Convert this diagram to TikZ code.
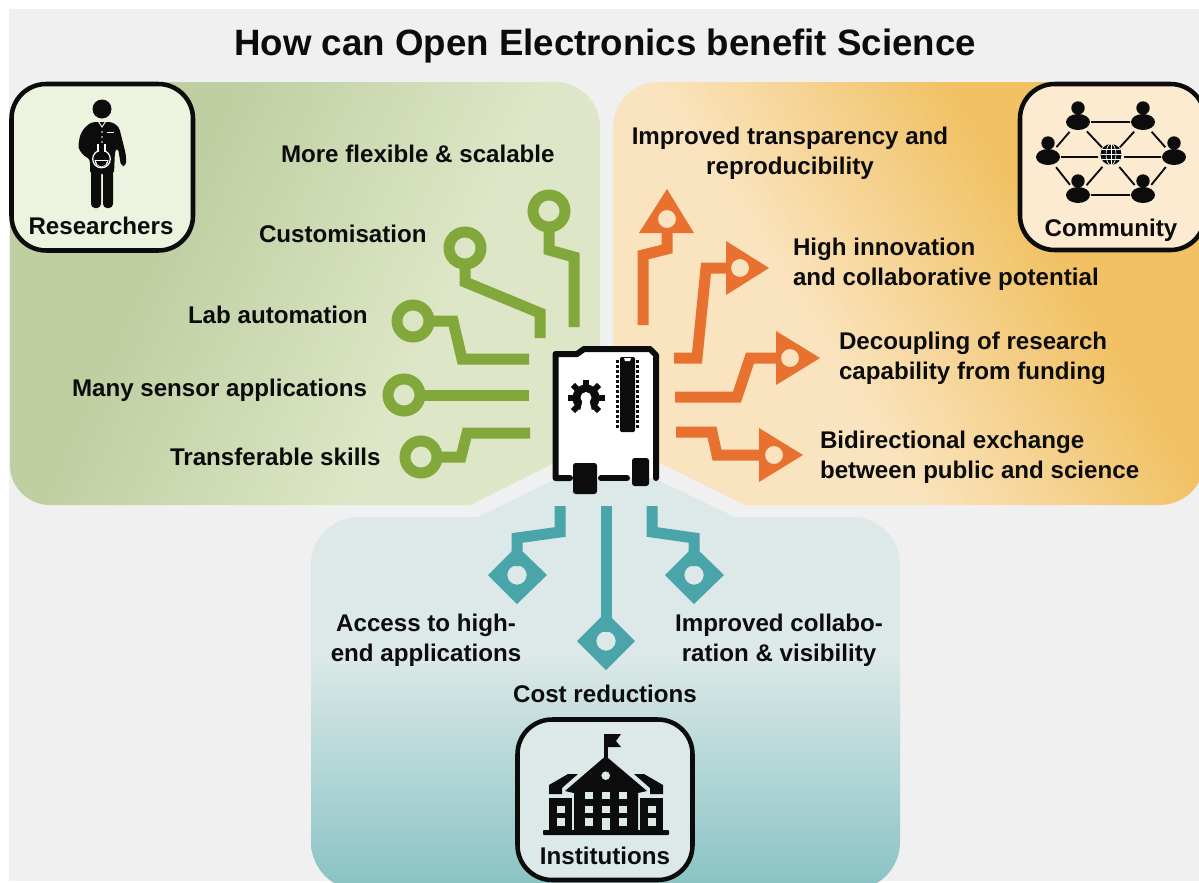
\documentclass[tikz,border=0pt]{standalone}
\usepackage{fontspec}
\setmainfont{Liberation Sans}
\usetikzlibrary{calc}
\definecolor{bgc}{HTML}{F0F0F0}
\definecolor{gdark}{HTML}{BFCFA2}
\definecolor{glight}{HTML}{DDE6C6}
\definecolor{olight}{HTML}{FAE4BF}
\definecolor{odark}{HTML}{F1C163}
\definecolor{tlight}{HTML}{DCE9E8}
\definecolor{tdark}{HTML}{88C2C3}
\definecolor{gtrace}{HTML}{82A83C}
\definecolor{otrace}{HTML}{E8712F}
\definecolor{ttrace}{HTML}{49A5A9}
\definecolor{gbox}{HTML}{ECF3DF}
\definecolor{obox}{HTML}{FCEBD0}
\definecolor{tbox}{HTML}{DCE9E8}
\definecolor{ink}{HTML}{0C0C0C}
\pgfdeclarehorizontalshading{gshade}{100bp}{color(0bp)=(gdark);color(36bp)=(gdark);color(62bp)=(glight);color(100bp)=(glight)}
\pgfdeclarehorizontalshading{oshade}{100bp}{color(0bp)=(olight);color(40bp)=(olight);color(64bp)=(odark);color(100bp)=(odark)}
\pgfdeclareverticalshading{tshade}{100bp}{color(0bp)=(tdark);color(25bp)=(tdark);color(52bp)=(tlight);color(100bp)=(tlight)}
\tikzset{
  lab/.style={font=\fontsize{18.1}{22.5}\selectfont\bfseries,text=ink,inner sep=0pt,outer sep=0pt},
  ttl/.style={font=\fontsize{27.5}{32}\selectfont\bfseries,text=ink,inner sep=0pt},
  trace/.style={line width=8.25pt,line join=miter,miter limit=10},
  ring/.style={circle,draw=gtrace,line width=8.25pt,minimum size=24pt,inner sep=0pt,outer sep=0pt},
  hole/.style={circle,minimum size=13.5pt,inner sep=0pt,outer sep=0pt},
  iconbox/.style={draw=ink,line width=3.4pt,rounded corners=26pt},
  person/.style={circle,minimum size=19.5pt,inner sep=0pt,outer sep=0pt},
  link/.style={draw=ink,line width=1.4pt},
}
\begin{document}
\begin{tikzpicture}[x=0.75pt,y=-0.75pt]
\useasboundingbox (0,0) rectangle (1199,882);
\clip (0,0) rectangle (1199,882);
\fill[bgc] (9,9) rectangle (1199,881);
% panels
\shade[shading=gshade,shading angle=-25]
  [rounded corners=34pt] (10,82) -- (600,82) -- (600,440)
  [sharp corners] -- (470,505) [rounded corners=30pt] -- (10,505) -- cycle;
\shade[shading=oshade,shading angle=32]
  [rounded corners=34pt] (613,440) -- (613,82) -- (1205,82) -- (1205,505)
  [sharp corners] -- (745,505) -- cycle;
\shade[shading=tshade]
  [sharp corners] (605,455) -- (478,517) [rounded corners=36pt] -- (311,517) -- (311,890) -- (900,890) -- (900,517)
  [sharp corners] -- (735,517) -- cycle;
% title
\node[ttl,anchor=base] (title) at (605,55) {How can Open Electronics benefit Science};
% green pads and traces
\node[ring] (g1) at (549,211) {};
\node[ring] (g2) at (465,248) {};
\node[ring] (g3) at (413,321) {};
\node[ring] (g4) at (404,395) {};
\node[ring] (g5) at (421,457) {};
\coordinate (gs1) at (574,327);
\coordinate (gs2) at (540,338);
\coordinate (gs3) at (529,359);
\coordinate (gs4) at (529,395);
\coordinate (gs5) at (530,433);
\draw[trace,gtrace] (g1.south) -- (549,250) -- (574,257) -- (gs1);
\draw[trace,gtrace] (g2.south) -- (465,282) -- (540,313) -- (gs2);
\draw[trace,gtrace] (g3.east) -- (453,321) -- (462,359) -- (gs3);
\draw[trace,gtrace] (g4.east) -- (gs4);
\draw[trace,gtrace] (g5.east) -- (461,457) -- (467,433) -- (gs5);
% orange pads and traces
\fill[otrace,even odd rule] (667,189) -- (694,233) -- (639,233) -- cycle (667,219) circle [radius=9];
\fill[otrace,even odd rule] (726,241) -- (769,268) -- (726,295) -- cycle (740,268) circle [radius=9];
\fill[otrace,even odd rule] (776,331) -- (820,358) -- (776,385) -- cycle (790,358) circle [radius=9];
\fill[otrace,even odd rule] (759,428) -- (803,455) -- (759,482) -- cycle (774,455) circle [radius=9];
\node[hole] (o1) at (667,219) {};
\node[hole] (o2) at (740,268) {};
\node[hole] (o3) at (790,358) {};
\node[hole] (o4) at (774,455) {};
\coordinate (os1) at (643,325);
\coordinate (os2) at (674,358);
\coordinate (os3) at (675,397);
\coordinate (os4) at (676,432);
\draw[trace,otrace] (os1) -- (643,255) -- (667,249) -- (o1.south);
\draw[trace,otrace] (os2) -- (697,358) -- (706,268) -- (o2.west);
\draw[trace,otrace] (os3) -- (737,397) -- (750,358) -- (o3.west);
\draw[trace,otrace] (os4) -- (712,432) -- (717,455) -- (o4.west);
% teal pads and traces
\fill[ttrace,even odd rule] (517,546) -- (547,575) -- (517,604) -- (488,575) -- cycle (517,575) circle [radius=9.7];
\fill[ttrace,even odd rule] (606,612) -- (635,641) -- (606,670) -- (577,641) -- cycle (606,641) circle [radius=9.7];
\fill[ttrace,even odd rule] (694,546) -- (724,575) -- (694,604) -- (665,575) -- cycle (694,575) circle [radius=9.7];
\node[hole] (t1) at (517,575) {};
\node[hole] (t2) at (606,641) {};
\node[hole] (t3) at (694,575) {};
\coordinate (ts1) at (560,506);
\coordinate (ts2) at (606,506);
\coordinate (ts3) at (652,506);
\draw[trace,ttrace] (ts1) -- (560,532) -- (517,538) -- (t1.north);
\draw[trace,ttrace] (ts2) -- (t2.north);
\draw[trace,ttrace] (ts3) -- (652,532) -- (694,538) -- (t3.north);
% board
\fill[white] (555,354) -- (577,354) -- (584,349) -- (650,349) -- (656,354) -- (656,478) -- (555,478) -- cycle;
\draw[ink,line width=4.5pt,line cap=round,line join=round]
  (570,478) -- (555.5,478) -- (555.5,354) -- (577,354) -- (584,349) -- (650,349) -- (656,355) -- (656,478);
\draw[ink,line width=4.5pt,line cap=round] (601,478) -- (627,478);
\fill[ink,rounded corners=2pt] (573,463) rectangle (597,494);
\fill[ink,rounded corners=2pt] (632,458) rectangle (649,486);
\fill[ink,rounded corners=1pt] (620,357) rectangle (635,432);
\fill[white] (624,358) -- (631,358) -- (630,361) -- (625,361) -- cycle;
\foreach \k in {0,...,13} {
  \fill[ink] (615.6,360+\k*5) rectangle (618.6,363+\k*5);
  \fill[ink] (636.4,360+\k*5) rectangle (639.4,363+\k*5);
}
% gear
\fill[ink] (586,398) circle [radius=13.5];
\foreach \a in {0,45,135,180,225,270,315}
  \draw[ink,line width=4.4pt] (586,398) -- ++(\a:18.5);
\fill[white] (586,397.5) circle [radius=5.5];
\fill[white] (582.5,401) -- (589.5,401) -- (592.5,413) -- (579.5,413) -- cycle;
% researchers box
\path[iconbox,fill=gbox] (11.5,84) rectangle (193,250.5);
\fill[ink] (102,109) circle [radius=9.5];
\fill[ink,rounded corners=2.5pt] (92,122) -- (112,122) -- (119,127) -- (126,155) -- (126,166) -- (121,166) -- (118,148) -- (115,150) -- (114,174) -- (90,174) -- (90,159) -- (84,156) -- (78,148) -- (80,135) -- (85,127) -- cycle;
\fill[ink,rounded corners=3pt] (91,170) rectangle (101,208);
\fill[ink,rounded corners=3pt] (103,170) rectangle (113,208);
\draw[white,line width=.7pt] (98,121) -- (102,127) -- (106,121);
\draw[white,line width=.7pt] (107,132) -- (114,132);
\foreach \yy in {132,137,142} \fill[white] (102,\yy) circle [radius=.9];
% flask
\fill[ink] (101.5,159) circle [radius=10];
\draw[white,line width=.9pt] (101.5,159) circle [radius=8.8];
\fill[ink] (97.5,144) rectangle (105.5,153);
\draw[white,line width=.9pt] (98,144) -- (98,151.5) (105,144) -- (105,151.5);
\fill[white] (94.5,160) arc [start angle=180,end angle=0,radius=7] -- cycle;
\fill[ink] (96,161) arc [start angle=180,end angle=0,radius=5.5] -- cycle;
\node[lab,anchor=base] (researchers) at (101,234) {Researchers};
% community box
\path[iconbox,fill=obox] (1020,84) rectangle (1205,250);
\foreach \n/\x/\y in {p1/1078/122,p2/1143/122,p3/1048/157,p4/1174/157,p5/1078/195,p6/1143/195} {
  \node[person] (\n) at (\x,\y) {};
  \fill[ink] (\x,\y-14) circle [radius=6.7];
  \fill[ink] (\x,\y) ellipse [x radius=12,y radius=8];
}
\node[person] (globe) at (1111,157) {};
\fill[ink] (1111,154.5) circle [radius=10.5];
\draw[white,line width=.5pt] (1100.5,154.5) -- (1121.5,154.5) (1101.7,149.5) -- (1120.3,149.5) (1101.7,159.5) -- (1120.3,159.5) (1111,144) -- (1111,165);
\draw[white,line width=.5pt] (1111,154.5) ellipse [x radius=5,y radius=10.5];
\draw[link] (p1) -- (p2) (p5) -- (p6) (p3) -- (p1) (p3) -- (p5) (p2) -- (p4) (p4) -- (p6);
\draw[link] (p1) -- (globe) (p2) -- (globe) (p3) -- (globe) (p4) -- (globe) (p5) -- (globe) (p6) -- (globe);
\node[lab,anchor=base] (community) at (1111,236) {Community};
% institutions box
\path[iconbox,fill=tbox] (517.5,719.5) rectangle (692.5,880);
\fill[ink] (603.5,734) rectangle (608,760);
\fill[ink] (608,734) -- (621,734) -- (616,741) -- (621,747) -- (608,747) -- cycle;
\fill[ink] (605.7,756) -- (647,791) -- (638,793) -- (638,832) -- (574,832) -- (574,793) -- (565,791) -- cycle;
\fill[ink] (549,785) -- (568,774) -- (578,774) -- (562,788) -- (562,794) -- (549,794) -- cycle;
\fill[ink] (663,785) -- (644,774) -- (634,774) -- (650,788) -- (650,794) -- (663,794) -- cycle;
\fill[ink] (549,798) rectangle (572,832);
\fill[ink] (640,798) rectangle (663,832);
\fill[ink,rounded corners=.7pt] (543,830) rectangle (669,835);
\fill[tbox] (605.7,775.7) circle [radius=4.3];
\foreach \xx in {585,602,619} { \fill[tbox] (\xx,792) rectangle (\xx+8,799); \fill[tbox] (\xx,806) rectangle (\xx+8,813); }
\fill[tbox] (585,818) rectangle (593,826);
\fill[tbox] (602,818) rectangle (610,830);
\fill[tbox] (619,818) rectangle (627,826);
\foreach \xx in {557,648} { \fill[tbox] (\xx,806) rectangle (\xx+7.5,813); \fill[tbox] (\xx,818) rectangle (\xx+7.5,826); }
\node[lab,anchor=base] (institutions) at (605,864) {Institutions};
% labels
\node[lab,anchor=base west] (l1) at (281,162) {More flexible \& scalable};
\node[lab,anchor=base west] (l2) at (259,242) {Customisation};
\node[lab,anchor=base west] (l3) at (188,323) {Lab automation};
\node[lab,anchor=base west] (l4) at (72,396) {Many sensor applications};
\node[lab,anchor=base west] (l5) at (170,465) {Transferable skills};
\node[lab,align=center] (r1) at (790,153) {Improved transparency and\\reproducibility};
\node[lab,align=left,anchor=west] (r2) at (793,264) {High innovation\\and collaborative potential};
\node[lab,align=left,anchor=west] (r3) at (839,358) {Decoupling of research\\capability from funding};
\node[lab,align=left,anchor=west] (r4) at (820,457) {Bidirectional exchange\\between public and science};
\node[lab,align=center] (b1) at (426,640) {Access to high-\\end applications};
\node[lab,align=center] (b2) at (779,640) {Improved collabo-\\ration \& visibility};
\node[lab,anchor=base] (b3) at (605,702) {Cost reductions};
\end{tikzpicture}
\end{document}
